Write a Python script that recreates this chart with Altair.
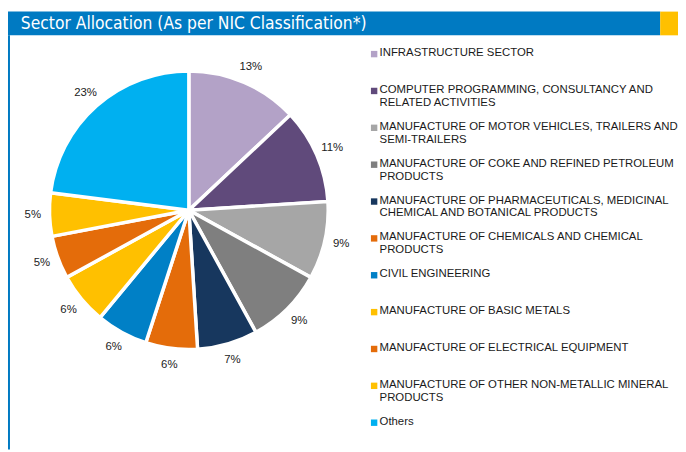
import altair as alt
import pandas as pd

# ---- data ----
categories = [
    "INFRASTRUCTURE SECTOR",
    "COMPUTER PROGRAMMING, CONSULTANCY AND\nRELATED ACTIVITIES",
    "MANUFACTURE OF MOTOR VEHICLES, TRAILERS AND\nSEMI-TRAILERS",
    "MANUFACTURE OF COKE AND REFINED PETROLEUM\nPRODUCTS",
    "MANUFACTURE OF PHARMACEUTICALS, MEDICINAL\nCHEMICAL AND BOTANICAL PRODUCTS",
    "MANUFACTURE OF CHEMICALS AND CHEMICAL\nPRODUCTS",
    "CIVIL ENGINEERING",
    "MANUFACTURE OF BASIC METALS",
    "MANUFACTURE OF ELECTRICAL EQUIPMENT",
    "MANUFACTURE OF OTHER NON-METALLIC MINERAL\nPRODUCTS",
    "Others",
]
values = [13, 11, 9, 9, 7, 6, 6, 6, 5, 5, 23]
labels = ["13%", "11%", "9%", "9%", "7%", "6%", "6%", "6%", "5%", "5%", "23%"]
colors = ["#B3A2C7", "#604A7B", "#A6A6A6", "#7F7F7F", "#17375E", "#E46C0A",
          "#0080C6", "#FFC000", "#E46C0A", "#FFC000", "#00B0F0"]
title_text = "Sector Allocation (As per NIC Classification*)"

df = pd.DataFrame({"cat": categories, "value": values, "label": labels,
                   "idx": list(range(len(categories)))})

color_scale = alt.Scale(domain=categories, range=colors)
CX, CY, R = 183, 202, 141

base = alt.Chart(df)

pie = base.mark_arc(outerRadius=R, stroke="white", strokeWidth=3.5).encode(
    theta=alt.Theta("value:Q", stack=True),
    color=alt.Color("cat:N", scale=color_scale, legend=None),
    order=alt.Order("idx:Q"),
    x=alt.value(CX), y=alt.value(CY),
)

pct = base.mark_text(radius=158, font="Liberation Sans", fontSize=11.5, color="#222222").encode(
    theta=alt.Theta("value:Q", stack=True),
    order=alt.Order("idx:Q"),
    text="label:N",
    x=alt.value(CX), y=alt.value(CY),
)

ypos = alt.Y("cat:N", sort=None, axis=None,
             scale=alt.Scale(type="point", domain=categories, range=[44, 417], padding=0))

leg_sq = base.mark_square(size=42, opacity=1).encode(
    x=alt.value(370.5), y=ypos,
    color=alt.Color("cat:N", scale=color_scale, legend=None),
)
leg_tx = base.mark_text(align="left", baseline="top", dy=-7, lineBreak="\n",
                        lineHeight=13, font="Liberation Sans", fontSize=11.5,
                        color="#1a1a1a").encode(
    x=alt.value(376), y=ypos, text="cat:N",
)

tdf = pd.DataFrame({"t": [title_text]})
bar = alt.Chart(tdf).mark_rect(color="#007AC2").encode(
    x=alt.value(0), x2=alt.value(660), y=alt.value(1), y2=alt.value(25))
ybar = alt.Chart(tdf).mark_rect(color="#FFC000").encode(
    x=alt.value(660), x2=alt.value(678), y=alt.value(1), y2=alt.value(25))
vline = alt.Chart(tdf).mark_rect(color="#007AC2").encode(
    x=alt.value(0), x2=alt.value(2), y=alt.value(25), y2=alt.value(444))
ttl = alt.Chart(tdf).mark_text(align="left", baseline="alphabetic",
                               font="DejaVu Sans Condensed", fontSize=17.5,
                               color="white").encode(
    x=alt.value(13), y=alt.value(18.5), text="t:N")

chart = alt.layer(bar, ybar, vline, ttl, pie, pct, leg_sq, leg_tx).properties(
    width=678, height=444, autosize="none", padding=0
).configure_view(stroke=None)

chart.save("out.html", embed_options={"renderer": "svg", "actions": False})
